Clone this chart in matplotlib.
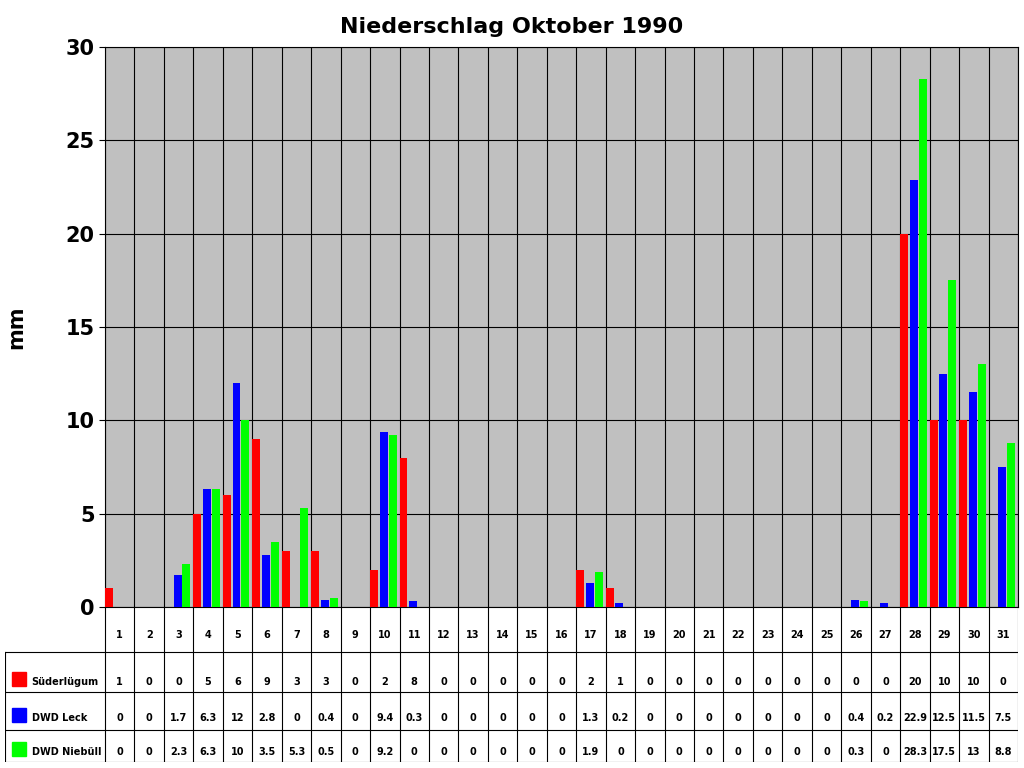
import matplotlib
matplotlib.use("Agg")
import matplotlib.pyplot as plt
import numpy as np

days = [str(i) for i in range(1, 32)]
series_names = ["Süderlügum", "DWD Leck", "DWD Niebüll"]
suder = [1,0,0,5,6,9,3,3,0,2,8,0,0,0,0,0,2,1,0,0,0,0,0,0,0,0,0,20,10,10,0]
leck = [0,0,1.7,6.3,12,2.8,0,0.4,0,9.4,0.3,0,0,0,0,0,1.3,0.2,0,0,0,0,0,0,0,0.4,0.2,22.9,12.5,11.5,7.5]
niebuell = [0,0,2.3,6.3,10,3.5,5.3,0.5,0,9.2,0,0,0,0,0,0,1.9,0,0,0,0,0,0,0,0,0.3,0,28.3,17.5,13,8.8]
colors = ["#ff0000", "#0000ff", "#00ff00"]
yticks = [0,5,10,15,20,25,30]

W, H = 1024, 768
fig = plt.figure(figsize=(W/100, H/100), dpi=100)
L, R, T, B = 105, 1018, 47, 607
ax = fig.add_axes([L/W, 1-B/H, (R-L)/W, (B-T)/H])
ax.set_facecolor("#c0c0c0")
x = np.arange(31)
bw = 0.27
for vals, off, c in zip([suder, leck, niebuell], [0, 0.33, 0.63], colors):
    ax.bar(x + off, vals, width=bw, align="edge", color=c, zorder=3)
ax.set_xlim(0, 31)
ax.set_ylim(0, 30)
ax.set_xticks(np.arange(32))
ax.set_xticklabels([])
ax.tick_params(axis="x", length=0)
ax.set_yticks(yticks)
ax.set_yticklabels([str(v) for v in yticks], fontsize=15, fontweight="bold")
ax.tick_params(axis="y", length=4)
ax.grid(True, color="black", linewidth=0.8, zorder=1)
for s in ax.spines.values():
    s.set_color("black")
ax.set_ylabel("mm", fontsize=15, fontweight="bold", labelpad=28)
fig.text(0.5, 1-27/H, "Niederschlag Oktober 1990", ha="center", va="center",
         fontsize=16, fontweight="bold")

# table
TB = 762
tax = fig.add_axes([5/W, 1-TB/H, (R-5)/W, (TB-B)/H])
tax.set_xlim(-(L-5)/((R-L)/31), 31)
tax.set_ylim(TB, B)
tax.axis("off")
x0 = -(L-5)/((R-L)/31)
rows = [607, 652, 692, 730, 762]
for yv in rows[1:]:
    tax.plot([x0, 31], [yv, yv], color="black", lw=0.8)
tax.plot([x0, x0], [652, 762], color="black", lw=0.8)
for i in range(32):
    tax.plot([i, i], [607, 762], color="black", lw=0.8)
for i, d in enumerate(days):
    tax.text(i+0.5, 635, d, ha="center", va="center", fontsize=7, fontweight="bold")
ycent = [682, 718, 752]
for name, vals, c, yv in zip(series_names, [suder, leck, niebuell], colors, ycent):
    tax.add_patch(plt.Rectangle((x0+0.25, yv-10), 0.45, 14, color=c))
    tax.text(x0+0.9, yv, name, ha="left", va="center", fontsize=7, fontweight="bold")
    for i, v in enumerate(vals):
        tax.text(i+0.5, yv, f"{v:g}", ha="center", va="center", fontsize=7, fontweight="bold")

fig.savefig("out.png", dpi=100)
